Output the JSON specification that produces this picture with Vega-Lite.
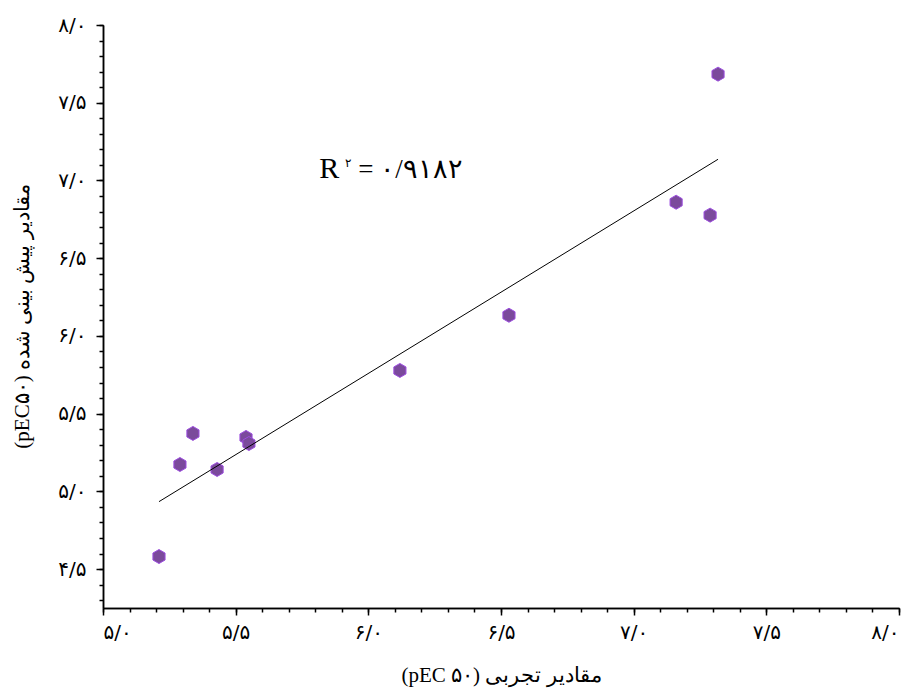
{
  "$schema": "https://vega.github.io/schema/vega-lite/v6.json",
  "autosize": "none",
  "width": 796,
  "height": 583,
  "padding": {"left": 103, "top": 25, "right": 13, "bottom": 80},
  "background": "white",
  "config": {"view": {"stroke": null}},
  "datasets": {
    "pts": [
      {"exp": 5.211, "pred": 4.581},
      {"exp": 5.290, "pred": 5.173},
      {"exp": 5.339, "pred": 5.373},
      {"exp": 5.430, "pred": 5.141},
      {"exp": 5.539, "pred": 5.347},
      {"exp": 5.550, "pred": 5.308},
      {"exp": 6.119, "pred": 5.778},
      {"exp": 6.530, "pred": 6.133},
      {"exp": 7.160, "pred": 6.860},
      {"exp": 7.288, "pred": 6.777},
      {"exp": 7.318, "pred": 7.684}
    ]
  },
  "layer": [
    {
      "data": {"name": "pts"},
      "mark": {
        "type": "point",
        "shape": "M0,-1L0.866,-0.5L0.866,0.5L0,1L-0.866,0.5L-0.866,-0.5Z",
        "filled": true,
        "size": 196,
        "fill": "#7b4a9c",
        "stroke": "#9d4ee0",
        "strokeWidth": 1,
        "opacity": 1
      },
      "encoding": {
        "x": {
          "field": "exp", "type": "quantitative",
          "scale": {"domain": [5, 8], "nice": false, "zero": false},
          "axis": {
            "orient": "bottom",
            "values": [5, 5.5, 6, 6.5, 7, 7.5, 8],
            "grid": false,
            "domainColor": "black", "domainWidth": 1.5,
            "tickColor": "black", "tickWidth": 1.5, "tickSize": 7,
            "labelFont": "DejaVu Sans", "labelFontSize": 20, "labelColor": "black",
            "labelPadding": 17, "labelBaseline": "middle",
            "labelExpr": "['۰','۱','۲','۳','۴','۵','۶','۷','۸','۹'][floor(datum.value + 0.001)] + '/' + ['۰','۱','۲','۳','۴','۵','۶','۷','۸','۹'][round(datum.value * 10) % 10]",
            "title": "(pEC ۵۰) مقادیر تجربی",
            "titleFont": "Liberation Serif", "titleFontSize": 21, "titleFontWeight": "normal", "titleColor": "black",
            "titleX": 398, "titleY": 67, "titleBaseline": "middle", "titleAlign": "center"
          }
        },
        "y": {
          "field": "pred", "type": "quantitative",
          "scale": {"domain": [4.25, 8], "nice": false, "zero": false},
          "axis": {
            "orient": "left",
            "values": [4.5, 5, 5.5, 6, 6.5, 7, 7.5, 8],
            "grid": false,
            "domainColor": "black", "domainWidth": 1.5,
            "tickColor": "black", "tickWidth": 1.5, "tickSize": 7,
            "labelFont": "DejaVu Sans", "labelFontSize": 20, "labelColor": "black",
            "labelPadding": 10, "labelBaseline": "middle", "labelAlign": "right",
            "labelExpr": "['۰','۱','۲','۳','۴','۵','۶','۷','۸','۹'][floor(datum.value + 0.001)] + '/' + ['۰','۱','۲','۳','۴','۵','۶','۷','۸','۹'][round(datum.value * 10) % 10]",
            "title": "(pEC۵۰) مقادیر پیش بینی شده",
            "titleFont": "Liberation Serif", "titleFontSize": 21, "titleFontWeight": "normal", "titleColor": "black",
            "titleX": -81, "titleY": 291, "titleAngle": -90, "titleBaseline": "middle", "titleAlign": "center"
          }
        }
      }
    },
    {
      "data": {"name": "pts"},
      "transform": [{"regression": "pred", "on": "exp"}],
      "mark": {"type": "line", "color": "black", "strokeWidth": 1},
      "encoding": {
        "x": {
          "field": "exp", "type": "quantitative",
          "axis": {
            "orient": "bottom",
            "values": [5, 5.1, 5.2, 5.3, 5.4, 5.5, 5.6, 5.7, 5.8, 5.9, 6, 6.1, 6.2, 6.3, 6.4, 6.5, 6.6, 6.7, 6.8, 6.9, 7, 7.1, 7.2, 7.3, 7.4, 7.5, 7.6, 7.7, 7.8, 7.9, 8],
            "grid": false, "labels": false, "title": null,
            "domainColor": "black", "domainWidth": 1.5,
            "tickColor": "black", "tickWidth": 1.5, "tickSize": 4
          }
        },
        "y": {
          "field": "pred", "type": "quantitative",
          "axis": {
            "orient": "left",
            "values": [4.3, 4.4, 4.5, 4.6, 4.7, 4.8, 4.9, 5, 5.1, 5.2, 5.3, 5.4, 5.5, 5.6, 5.7, 5.8, 5.9, 6, 6.1, 6.2, 6.3, 6.4, 6.5, 6.6, 6.7, 6.8, 6.9, 7, 7.1, 7.2, 7.3, 7.4, 7.5, 7.6, 7.7, 7.8, 7.9, 8],
            "grid": false, "labels": false, "title": null,
            "domainColor": "black", "domainWidth": 1.5,
            "tickColor": "black", "tickWidth": 1.5, "tickSize": 4
          }
        }
      }
    },
    {
      "data": {"values": [{"t": "R"}]},
      "mark": {"type": "text", "font": "Liberation Serif", "fontSize": 30, "align": "left", "baseline": "alphabetic", "color": "black"},
      "encoding": {
        "x": {"datum": 5.815, "type": "quantitative", "axis": null},
        "y": {"datum": 7.015, "type": "quantitative", "axis": null},
        "text": {"field": "t"}
      }
    },
    {
      "data": {"values": [{"t": "۲"}]},
      "mark": {"type": "text", "font": "DejaVu Sans", "fontSize": 12, "align": "left", "baseline": "alphabetic", "color": "black"},
      "encoding": {
        "x": {"datum": 5.912, "type": "quantitative", "axis": null},
        "y": {"datum": 7.088, "type": "quantitative", "axis": null},
        "text": {"field": "t"}
      }
    },
    {
      "data": {"values": [{"t": "= ۰/۹۱۸۲"}]},
      "mark": {"type": "text", "font": "Liberation Serif", "fontSize": 27, "align": "left", "baseline": "alphabetic", "color": "black"},
      "encoding": {
        "x": {"datum": 5.962, "type": "quantitative", "axis": null},
        "y": {"datum": 7.015, "type": "quantitative", "axis": null},
        "text": {"field": "t"}
      }
    }
  ],
  "resolve": {"axis": {"x": "independent", "y": "independent"}}
}
